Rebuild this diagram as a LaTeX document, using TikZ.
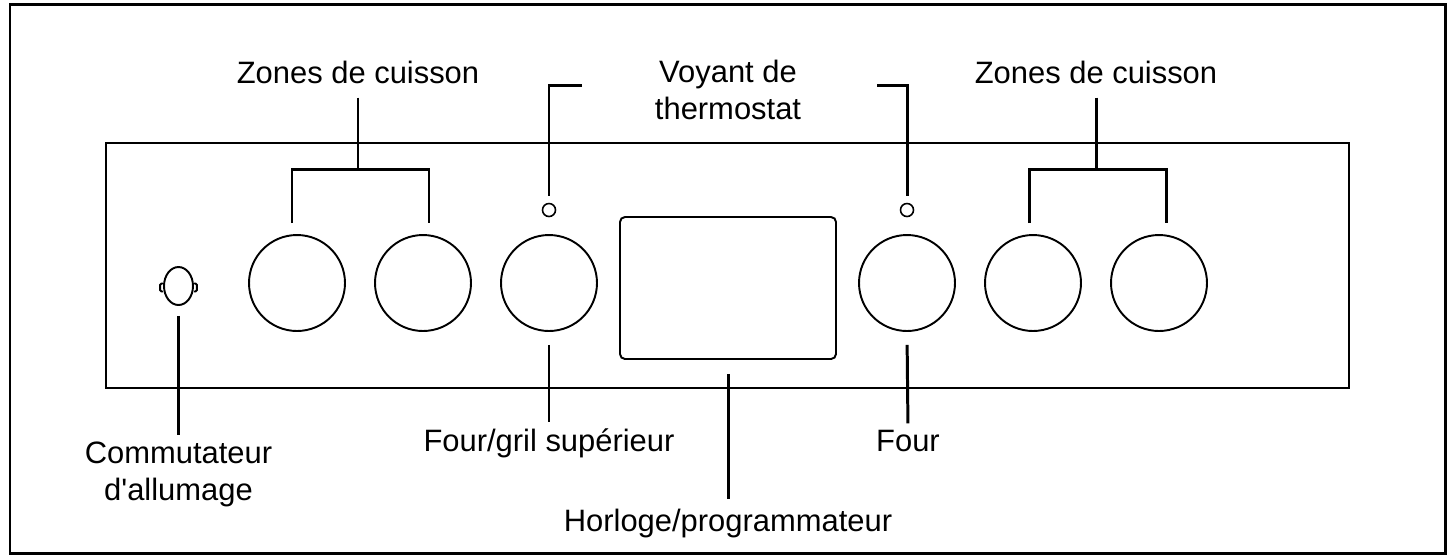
\documentclass[tikz,border=0pt]{standalone}
\usepackage{fontspec}
\setmainfont{Liberation Sans}
\usetikzlibrary{positioning, shapes.geometric, calc}

\begin{document}
\begin{tikzpicture}[
    x=0.02cm,
    y=-0.02cm,
    bouton/.style={
        draw,
        circle,
        line width=1.1pt,
        minimum size=1.92cm,
        inner sep=0pt
    },
    voyant/.style={
        draw,
        circle,
        line width=0.9pt,
        minimum size=0.26cm,
        inner sep=0pt
    },
    repere/.style={
        line width=1.7pt
    },
    legende/.style={
        font=\fontsize{17.6}{20.5}\selectfont,
        align=center,
        inner sep=0pt,
        anchor=base
    }
]

\useasboundingbox (0,0) rectangle (1451,556);

% ---------------- Cadre ----------------

\draw[line width=1.7pt] (10,4) rectangle (1445,553);

% ---------------- Panneau ----------------

\node[
    draw,
    line width=0.9pt,
    minimum width=24.86cm,
    minimum height=4.9cm,
    inner sep=0pt
] (panneau) at (727.5,265.5)
{};

\node[bouton] (plaqueA) at (297,283) {};
\node[bouton] (plaqueB) at (423,283) {};
\node[bouton] (fourgril) at (549,283) {};
\node[bouton] (four) at (907,283) {};
\node[bouton] (plaqueC) at (1033,283) {};
\node[bouton] (plaqueD) at (1159,283) {};

\node[voyant] (voyantA) at (549,210) {};
\node[voyant] (voyantB) at (907,210) {};

\node[
    draw,
    line width=1.1pt,
    rounded corners=2.8pt,
    minimum width=4.32cm,
    minimum height=2.84cm,
    inner sep=0pt
] (horloge) at (728,288)
{};

\node[
    draw,
    ellipse,
    line width=1.1pt,
    minimum width=0.58cm,
    minimum height=0.76cm,
    inner sep=0pt
] (commutateur) at (178.5,286)
{};

% oreilles du commutateur
\draw[line width=1.1pt, rounded corners=0.8pt]
    ([yshift=0.05cm]commutateur.west) -- ++(-3,0) -- ++(0,8) -- ++(3,0);
\draw[line width=1.1pt, rounded corners=0.8pt]
    ([yshift=0.05cm]commutateur.east) -- ++(3,0) -- ++(0,8) -- ++(-3,0);

% ---------------- Legendes ----------------

\node[legende] (lblZonesG) at (358,83) {Zones de cuisson};
\node[legende] (lblZonesD) at (1096,83) {Zones de cuisson};
\node[legende] (lblVoyant) at (728,119) {Voyant de\\thermostat};
\node[legende] (lblFourGril) at (549,451) {Four/gril supérieur};
\node[legende] (lblFour) at (908,451) {Four};
\node[legende] (lblHorloge) at (728,531) {Horloge/programmateur};
\node[legende] (lblCommutateur) at (178.5,500) {Commutateur\\d\textquotesingle allumage};

% ---------------- Reperes ----------------

\coordinate (jonctionG) at (358,169);
\draw[repere, shorten <=0.28cm] (lblZonesG.south) -- (jonctionG);
\draw[repere]
    ([xshift=-0.1cm, yshift=0.22cm]plaqueA.north) |- (jonctionG)
    -| ([xshift=0.12cm, yshift=0.22cm]plaqueB.north);

\coordinate (jonctionD) at (1096,169);
\draw[repere, shorten <=0.28cm] (lblZonesD.south) -- (jonctionD);
\draw[repere]
    ([xshift=-0.08cm, yshift=0.22cm]plaqueC.north) |- (jonctionD)
    -| ([xshift=0.14cm, yshift=0.22cm]plaqueD.north);

\coordinate (coinVoyantA) at (582,85);
\draw[repere] (coinVoyantA) -| ([yshift=0.14cm]voyantA.north);
\coordinate (coinVoyantB) at (877,85);
\draw[repere] (coinVoyantB) -| ([yshift=0.14cm]voyantB.north);

\draw[repere, shorten <=0.2cm, shorten >=0.15cm] (commutateur.south) -- (lblCommutateur.north);
\draw[repere, shorten <=0.26cm, shorten >=0.12cm] (fourgril.south) -- (lblFourGril.north);
\draw[repere, shorten <=0.26cm, shorten >=0.12cm] (four.south) -- (lblFour.north);
\draw[repere, shorten <=0.28cm, shorten >=0.18cm] (horloge.south) -- (lblHorloge.north);

\end{tikzpicture}
\end{document}
